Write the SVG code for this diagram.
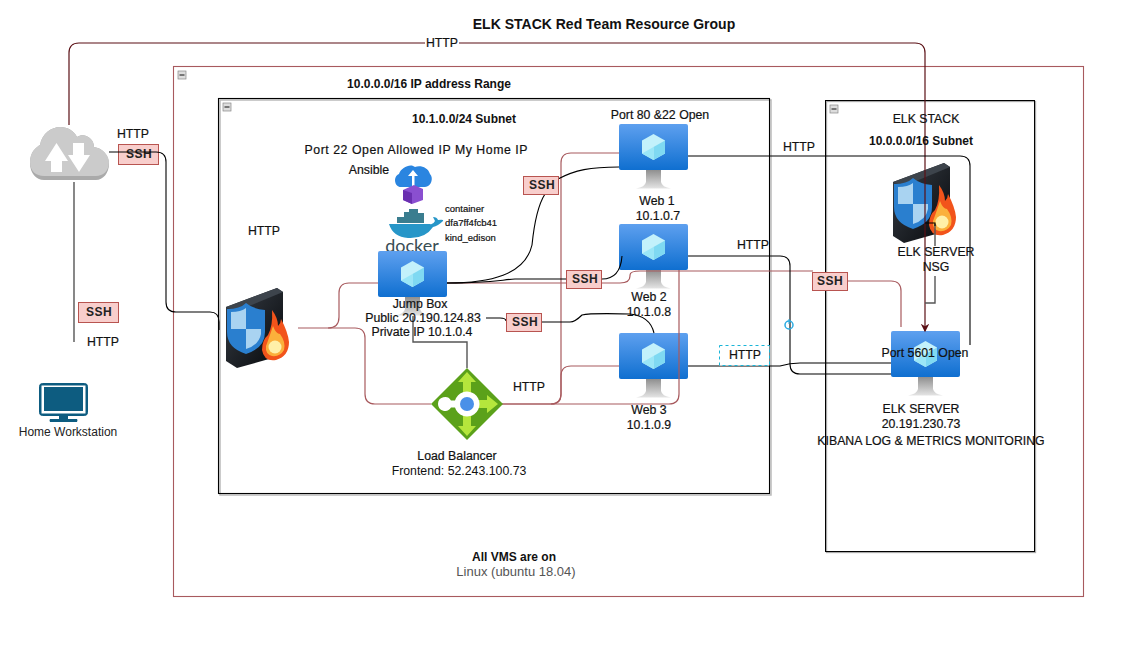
<svg xmlns="http://www.w3.org/2000/svg" width="1140" height="655" viewBox="0 0 1140 655">
<style>
text{font-family:"Liberation Sans",Arial,sans-serif;font-size:12.300px;fill:#111;text-anchor:middle;stroke:#111;stroke-width:.2}
.s{font-size:12px;font-weight:bold;letter-spacing:.5px;stroke:none;fill:#222}
.b{font-weight:bold;stroke:none;font-size:12px}
.sm{font-size:9.500px;text-anchor:start}
.g{stroke:none;fill:#555;font-size:13px}
.r{fill:none;stroke:#a85a5e;stroke-width:1.200}
.k{fill:none;stroke:#000;stroke-width:1.100}
.gy{fill:none;stroke:#555;stroke-width:1.400}
.box{fill:#f8cecc;stroke:#b85450;stroke-width:1}
</style>
<defs>
<linearGradient id="vg" x1="0" y1="0" x2="0" y2="1"><stop offset="0" stop-color="#5ea0ef"/><stop offset="1" stop-color="#0f6fd0"/></linearGradient>
<linearGradient id="st" x1="0" y1="0" x2="0" y2="1"><stop offset="0" stop-color="#8f8f8f"/><stop offset="1" stop-color="#e4e4e4"/></linearGradient>
<linearGradient id="fw" x1="0" y1="0" x2="1" y2="1"><stop offset="0" stop-color="#3a4048"/><stop offset="1" stop-color="#05070a"/></linearGradient>
<marker id="ah" markerWidth="8" markerHeight="8" refX="6" refY="3.500" orient="auto"><path d="M0 0L7 3.500L0 7L2 3.500Z" fill="#5a0f14"/></marker>
<g id="vm">
<path d="M27 46V58Q26 63 17 64.500H52Q43 63 42 58V46Z" fill="url(#st)"/>
<rect width="69" height="46" rx="2" fill="url(#vg)"/>
<path d="M34.500 10L46 16.500V29.500L34.500 36L23 29.500V16.500Z" fill="#c3f1fb"/>
<path d="M34.500 23L46 16.500V29.500L34.500 36Z" fill="#7fd9f2"/>
<path d="M34.500 23L23 29.500L34.500 36Z" fill="#9ae6f7"/>
</g>
<g id="firewall">
<path d="M0 19L51 0L57 4V67L11 80L0 73Z" fill="url(#fw)"/>
<path d="M0 19L51 0L57 4L11 23Z" fill="#3d444c"/>
<path d="M1 21Q14 21 20 15Q27 21 39 22V44Q39 60 20 66Q1 60 1 44Z" fill="#2a7fcf"/>
<path d="M5 24Q15 24 20 20V41H5ZM20 41H35V46Q33 57 20 61Z" fill="#a9d3f1"/>
<path d="M46 22Q52 30 52 38Q55 35 55 31Q62 44 63 54Q63 68 50 72Q38 74 36 62Q36 52 42 47Q47 38 46 22Z" fill="#f2541b"/>
<path d="M47 38Q50 46 54 46Q60 54 58 62Q54 69 46 68Q39 66 40 58Q43 50 47 38Z" fill="#fbb03b"/>
<circle cx="49" cy="59" r="6.500" fill="#fff0a8"/>
</g>
</defs>

<g id="resource-group"><rect x="173.500" y="66.500" width="910" height="530" fill="#fff" stroke="#a85a5e" stroke-width="1.100"/>
<rect x="178" y="71" width="8" height="8" fill="#ddd" stroke="#888" stroke-width=".7"/><path d="M179.500 75H184.500" stroke="#111"/></g>
<g id="subnet"><rect x="220" y="100" width="551" height="395" fill="none" stroke="#bbb" stroke-width="1.500"/><rect x="218.500" y="98.500" width="551" height="395" fill="none" stroke="#000" stroke-width="1.100"/>
<rect x="223" y="103" width="8" height="8" fill="#ddd" stroke="#888" stroke-width=".7"/><path d="M224.500 107H229.500" stroke="#111"/></g>
<g id="elk-stack"><rect x="826.500" y="101.500" width="209" height="451" fill="none" stroke="#aaa" stroke-width="1.300"/><rect x="825.500" y="100.500" width="209" height="451" fill="none" stroke="#000" stroke-width="1"/>
<rect x="830" y="105" width="8" height="8" fill="#ddd" stroke="#888" stroke-width=".7"/><path d="M831.500 109H836.500" stroke="#111"/></g>

<g id="docker"><text x="412" y="252" style="font-size:18px;fill:#394d54;stroke:none;font-family:Lato,sans-serif">docker</text>
<path d="M389 224H430Q433 225 435 221L433 217Q437 217 438 220Q444 219 443 221Q438 226 433 227Q425 239 408 238Q393 237 389 224Z" fill="#2796c8"/><path d="M397 223V217H404V212H409V209H418V213H424V223Z" fill="#3a7d8f"/></g>
<g id="vm-web1"><use href="#vm" x="619" y="124"/></g>
<g id="vm-web2"><use href="#vm" x="619" y="224"/></g>
<g id="vm-web3"><use href="#vm" x="619" y="333"/></g>
<g id="vm-jump"><use href="#vm" x="378" y="251"/></g>
<g id="vm-elk"><use href="#vm" x="891" y="331"/></g>
<g id="fw-main"><use href="#firewall" x="226" y="288"/></g>
<g id="fw-elk"><use href="#firewall" x="893" y="163"/></g>
<g id="ssh-1"><rect class="box" x="118.500" y="144.500" width="40" height="20"/><text class="s" x="139" y="158">SSH</text></g>

<g id="connectors">
<path class="r" d="M298 328H328Q339 328 339 317V293Q339 283 349 283H378"/>
<path class="r" d="M328 328H355Q365 328 365 338V394Q365 404 375 404H431"/>
<path class="r" d="M502 404H551Q561 404 561 394V163Q561 153 571 153H619"/>
<path class="r" d="M551 404Q561 404 561 394V376Q561 366 571 366H619"/>
<path class="r" d="M502 404H669Q679 404 679 394V270"/>
<path class="r" d="M447 283H620Q630 283 630 276V275Q630 271 640 271H813"/>
<path class="r" d="M848 281H891Q901 281 901 291V327"/>
<path d="M69 125V53Q69 43 79 43H915Q925 43 925 53V331" fill="none" stroke="#5a0f14" stroke-width="1.200" marker-end="url(#ah)"/>
<path class="k" d="M109 152H156Q166 152 166 162V302Q166 312 176 312H210Q219 312 219 322V330"/>
<path class="gy" d="M74 182V342"/>
<path class="k" d="M447 283C490 283 525 275 532 245C534 225 538 205 545 194"/>
<path class="k" d="M558 179C575 170 590 167 619 167"/>
<path class="k" d="M447 283C490 283 500 280 515 279H566"/>
<path class="k" d="M602 279C615 279 621 270 622 256"/>
<path class="k" d="M486 318H500Q506 318 506 321"/>
<path class="k" d="M541 322H570Q575 322 582 315Q590 313 630 314Q650 316 654 333"/>
<path class="gy" d="M413 316V342H467V368"/>
<path class="k" d="M688 156H960Q970 156 970 166V345"/>
<path class="k" d="M688 256H780Q790 256 790 266V364Q790 374 800 374H891"/>
<path class="k" d="M688 366H780Q790 363 800 363H891"/>
<path class="gy" d="M935 224V246M935 276V303H925"/>
<path class="k" d="M925 223H935V226"/>
</g>

<g id="load-balancer"><path d="M467 368L503 404L467 440L431 404Z" fill="#5ba11a"/>
<path d="M467 372L476 382H471V396H463V382H458ZM467 436L476 426H471V412H463V426H458ZM498 404L487 395V400H476V408H487V413Z" fill="#b5e63c"/>
<path d="M438 404a7 7 0 0 1 13 -3.500h4a12.500 12.500 0 1 1 0 7h-4a7 7 0 0 1 -13 -3.500Z" fill="#fff"/><circle cx="467" cy="404" r="7" fill="#4a90e8"/></g>
<g id="cloud"><path d="M30 163C30 151 37 147 40 145C42 133 52 127 60 127C68 127 74 131 77 137C84 132 94 138 94 147C102 148 109 155 109 164C109 173 103 180 96 180H44C36 180 30 173 30 163Z" fill="#aaa"/><path d="M30 162C30 151 37 147 40 145C42 133 52 127 60 127C68 127 74 131 77 137C84 132 94 138 94 147C102 148 109 155 109 162C109 171 103 176 96 176H44C36 176 30 171 30 162Z" fill="#cbcbcb"/>
<path d="M56.500 143L68 161H62V172H51V161H45ZM73 143H84V155H90L79 172L68 155H73Z" fill="#fff"/></g>
<g id="home"><rect x="39.500" y="383.500" width="48" height="32" rx="3" fill="#0d5c80" stroke="#0d5c80"/><rect x="41.500" y="385.500" width="44" height="28" fill="#fff"/><rect x="44" y="387" width="39" height="24" fill="#0d5c80"/><path d="M59 416H68V419H77Q78 420 77 422H50Q49 420 50 419H59Z" fill="#0d5c80"/></g>
<g id="ansible"><path d="M401 187C394 187 393 176 399 174C401 167 411 163 415 167C420 165 428 167 430 174C434 178 431 187 425 187Z" fill="#2a85e0"/><path d="M412 187V176H408L413 170L418 176H414.500V187Z" fill="#fff"/><path d="M403 190L414 185L423 189V200L412 204L403 200Z" fill="#8a4fd0"/><path d="M403 190L412 193V204L403 200Z" fill="#6a2fb0"/></g>

<g id="ssh-2"><rect class="box" x="78.500" y="302.500" width="40" height="20"/><text class="s" x="99" y="316">SSH</text></g>
<g id="ssh-3"><rect class="box" x="523.500" y="176.500" width="35" height="18"/><text class="s" x="542" y="189">SSH</text></g>
<g id="ssh-4"><rect class="box" x="566.500" y="270.500" width="35" height="18"/><text class="s" x="585" y="283">SSH</text></g>
<g id="ssh-5"><rect class="box" x="506.500" y="313.500" width="35" height="18"/><text class="s" x="525" y="326">SSH</text></g>
<g id="ssh-6"><rect class="box" x="812.500" y="272.500" width="35" height="18"/><text class="s" x="830" y="285">SSH</text></g>
<g id="http-dashed"><rect x="719.500" y="345.500" width="50" height="20" fill="#fff" stroke="#19b5d8" stroke-dasharray="3 3"/><text x="745" y="359">HTTP</text></g>
<g id="rotate"><circle cx="789" cy="325" r="4" fill="none" stroke="#29abe2" stroke-width="1.500"/><path d="M789 319V324" stroke="#29abe2"/></g>

<g id="labels">
<text class="b" x="604" y="29" style="font-size:14px">ELK STACK Red Team Resource Group</text>
<rect x="425" y="37" width="34" height="12" fill="#fff"/>
<text x="442" y="47">HTTP</text>
<text class="b" x="429" y="88">10.0.0.0/16 IP address Range</text>
<text class="b" x="464" y="123">10.1.0.0/24 Subnet</text>
<text x="660" y="119">Port 80 &amp;22 Open</text>
<text x="416" y="154" textLength="223" lengthAdjust="spacing">Port 22 Open Allowed IP My Home IP</text>
<text x="369" y="174">Ansible</text>
<text x="133" y="138">HTTP</text>
<text x="264" y="235">HTTP</text>
<text x="103" y="346">HTTP</text>
<text x="68" y="436" style="stroke:none;fill:#222;font-size:12px">Home Workstation</text>
<text class="sm" x="445" y="212">container</text>
<text class="sm" x="445" y="226">dfa7ff4fcb41</text>
<text class="sm" x="445" y="241">kind_edison</text>
<text x="657" y="205">Web 1</text>
<text x="658" y="220">10.1.0.7</text>
<text x="649" y="301">Web 2</text>
<text x="649" y="316">10.1.0.8</text>
<text x="649" y="414">Web 3</text>
<text x="649" y="429">10.1.0.9</text>
<text x="420" y="308">Jump Box</text>
<text x="423" y="322">Public 20.190.124.83</text>
<text x="422" y="336">Private IP 10.1.0.4</text>
<text x="529" y="391">HTTP</text>
<text x="457" y="460">Load Balancer</text>
<text x="459" y="475" style="stroke:none">Frontend: 52.243.100.73</text>
<text x="799" y="151">HTTP</text>
<text x="753" y="249">HTTP</text>
<text x="926" y="123">ELK STACK</text>
<text class="b" x="921" y="145">10.0.0.0/16 Subnet</text>
<text x="936" y="256">ELK SERVER</text>
<text x="936" y="271">NSG</text>
<text x="925" y="357">Port 5601 Open</text>
<text x="921" y="413">ELK SERVER</text>
<text x="921" y="428">20.191.230.73</text>
<text x="931" y="445">KIBANA LOG &amp; METRICS MONITORING</text>
<text class="b" x="514" y="561">All VMS are on</text>
<text class="g" x="516" y="576">Linux (ubuntu 18.04)</text>
</g>
</svg>
